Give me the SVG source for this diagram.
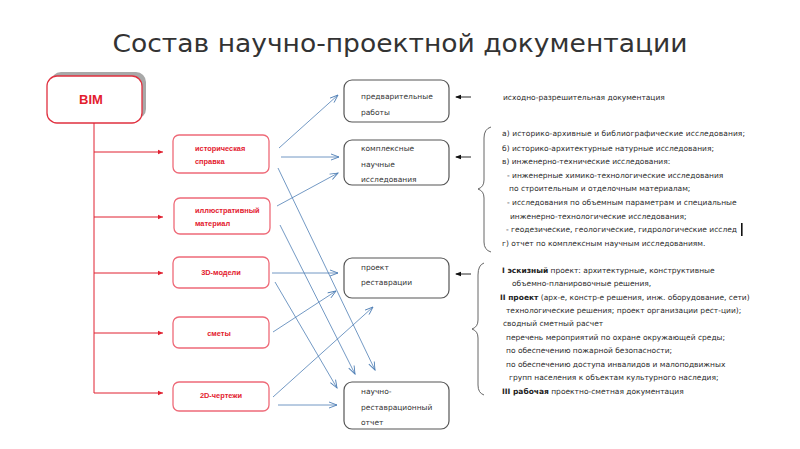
<svg xmlns="http://www.w3.org/2000/svg" width="800" height="449" viewBox="0 0 800 449">
<defs>
<marker id="blueArrow" markerWidth="10" markerHeight="8" refX="9" refY="4" orient="auto" markerUnits="userSpaceOnUse">
<path d="M1,1 L9,4 L1,7" fill="none" stroke="#4f7fb5" stroke-width="0.9"/>
</marker>
<marker id="redArrow" markerWidth="6" markerHeight="6" refX="5" refY="3" orient="auto" markerUnits="userSpaceOnUse">
<path d="M0,0.8 L5,3 L0,5.2 Z" fill="#e02030"/>
</marker>
<marker id="blackArrow" markerWidth="6" markerHeight="6" refX="1" refY="3" orient="auto" markerUnits="userSpaceOnUse">
<path d="M6,0.8 L0,3 L6,5.2 Z" fill="#111"/>
</marker>
</defs>
<style>
.title{font-family:"DejaVu Sans","Open Sans",sans-serif;font-size:24px;fill:#333}
.rbox{fill:#fff;stroke:#ee6a78;stroke-width:1.3}
.rtxt{font-family:"Liberation Sans","Arial",sans-serif;font-size:7.4px;font-weight:bold;fill:#e3202e}
.bbox{fill:#fff;stroke:#555;stroke-width:1.2}
.btxt{font-family:"DejaVu Sans",sans-serif;font-size:7.5px;fill:#333}
.ttxt{font-family:"DejaVu Sans",sans-serif;font-size:7.5px;fill:#2a2a2a}
.b{font-weight:bold;fill:#222}
.conn{stroke:#4f7fb5;stroke-width:0.8;fill:none;marker-end:url(#blueArrow)}
.tree{stroke:#e02030;stroke-width:1;fill:none}
.branch{stroke:#e02030;stroke-width:1;fill:none;marker-end:url(#redArrow)}
.larr{stroke:#111;stroke-width:0.9;fill:none;marker-start:url(#blackArrow)}
.brace{stroke:#555;stroke-width:0.9;fill:none}
</style>
<rect width="800" height="449" fill="#fff"/>
<text class="title" x="400" y="52" text-anchor="middle" textLength="575" lengthAdjust="spacingAndGlyphs">Состав научно-проектной документации</text>

<g id="bim">
<rect x="51" y="72" width="95" height="47" rx="10" fill="#a8a8a8"/>
<rect x="47" y="76" width="95" height="47" rx="10" fill="#fff" stroke="#e0303f" stroke-width="1.3"/>
<text x="91" y="104" text-anchor="middle" font-family="Liberation Sans, Arial, sans-serif" font-size="13" font-weight="bold" fill="#e3202e">BIM</text>
</g>

<g id="tree">
<line class="tree" x1="94" y1="123" x2="94" y2="393"/>
<line class="branch" x1="94" y1="152" x2="163" y2="152"/>
<line class="branch" x1="94" y1="217" x2="163" y2="217"/>
<line class="branch" x1="94" y1="273" x2="163" y2="273"/>
<line class="branch" x1="94" y1="333" x2="163" y2="333"/>
<line class="branch" x1="94" y1="393" x2="163" y2="393"/>
</g>

<g id="hist">
<rect class="rbox" x="173" y="135" width="96" height="38" rx="6"/>
<text class="rtxt" x="195" y="150.5">историческая</text>
<text class="rtxt" x="195" y="163.5">справка</text>
</g>
<g id="illus">
<rect class="rbox" x="174" y="198" width="96" height="36" rx="6"/>
<text class="rtxt" x="195" y="212.5">иллюстративный</text>
<text class="rtxt" x="195" y="225.5">материал</text>
</g>
<g id="models3d">
<rect class="rbox" x="173" y="257" width="96" height="31" rx="6"/>
<text class="rtxt" x="221" y="274.5" text-anchor="middle">3D-модели</text>
</g>
<g id="smety">
<rect class="rbox" x="173" y="317" width="96" height="31" rx="6"/>
<text class="rtxt" x="219" y="335.5" text-anchor="middle">сметы</text>
</g>
<g id="drawings2d">
<rect class="rbox" x="173" y="382" width="96" height="29" rx="6"/>
<text class="rtxt" x="221" y="397.5" text-anchor="middle">2D-чертежи</text>
</g>

<g id="prelim">
<rect class="bbox" x="344" y="80" width="105" height="42" rx="8"/>
<text class="btxt" x="361" y="99">предварительные</text>
<text class="btxt" x="361" y="115">работы</text>
</g>
<g id="complex">
<rect class="bbox" x="344" y="140" width="105" height="45" rx="8"/>
<text class="btxt" x="361" y="151">комплексные</text>
<text class="btxt" x="361" y="167">научные</text>
<text class="btxt" x="361" y="182">исследования</text>
</g>
<g id="project">
<rect class="bbox" x="344" y="258" width="105" height="40" rx="8"/>
<text class="btxt" x="361" y="270">проект</text>
<text class="btxt" x="361" y="285">реставрации</text>
</g>
<g id="report">
<rect class="bbox" x="344" y="382" width="105" height="47" rx="8"/>
<text class="btxt" x="361" y="394">научно-</text>
<text class="btxt" x="361" y="410">реставрационный</text>
<text class="btxt" x="361" y="425">отчет</text>
</g>

<g id="connectors">
<line class="conn" x1="279" y1="148" x2="338" y2="95"/>
<line class="conn" x1="281" y1="157" x2="339" y2="157"/>
<line class="conn" x1="277" y1="206" x2="338" y2="173"/>
<line class="conn" x1="278" y1="168" x2="375" y2="370"/>
<line class="conn" x1="280" y1="225" x2="355" y2="374"/>
<line class="conn" x1="272" y1="273" x2="338" y2="273"/>
<line class="conn" x1="275" y1="282" x2="337" y2="388"/>
<line class="conn" x1="273" y1="332" x2="336" y2="291"/>
<line class="conn" x1="273" y1="397" x2="373" y2="307"/>
<line class="conn" x1="278" y1="405" x2="337" y2="405"/>
<line class="larr" x1="456" y1="97" x2="471" y2="97"/>
<line class="larr" x1="456" y1="157" x2="471" y2="157"/>
<line class="larr" x1="456" y1="274" x2="471" y2="274"/>
</g>

<g id="text-prelim">
<text class="ttxt" x="503" y="100">исходно-разрешительная документация</text>
</g>

<g id="text-complex">
<path class="brace" d="M491,127 Q484,129 484,138 L484,180 Q484,187 478,189 Q484,191 484,198 L484,242 Q484,250 491,252"/>
<text class="ttxt" x="502" y="136" textLength="243" lengthAdjust="spacing">а) историко-архивные и библиографические исследования;</text>
<text class="ttxt" x="502" y="151">б) историко-архитектурные натурные исследования;</text>
<text class="ttxt" x="502" y="164">в) инженерно-технические исследования:</text>
<text class="ttxt" x="507" y="178">-  инженерные химико-технологические исследования</text>
<text class="ttxt" x="509" y="191">по строительным и отделочным материалам;</text>
<text class="ttxt" x="507" y="205">- исследования по объемным параметрам и специальные</text>
<text class="ttxt" x="510" y="219">инженерно-технологические исследования;</text>
<text class="ttxt" x="506" y="232">- геодезические, геологические, гидрологические исслед</text>
<text class="ttxt" x="502" y="246">г) отчет по комплексным научным исследованиям.</text>
<rect x="741" y="223" width="1.6" height="13" fill="#111"/>
</g>

<g id="text-project">
<path class="brace" d="M484,263 Q478,265 478,275 L478,320 Q478,327 472,329 Q478,331 478,338 L478,385 Q478,393 484,395"/>
<text class="ttxt" x="502" y="273"><tspan class="b">I эскизный</tspan> проект:  архитектурные, конструктивные</text>
<text class="ttxt" x="512" y="286">объемно-планировочные решения,</text>
<text class="ttxt" x="500" y="300"><tspan class="b">II проект</tspan> (арх-е, констр-е решения,  инж. оборудование,  сети)</text>
<text class="ttxt" x="506" y="313">технологические решения; проект организации рест-ции);</text>
<text class="ttxt" x="503" y="326">сводный сметный расчет</text>
<text class="ttxt" x="506" y="340">перечень мероприятий по охране окружающей  среды;</text>
<text class="ttxt" x="506" y="353">по обеспечению пожарной безопасности;</text>
<text class="ttxt" x="506" y="367">по обеспечению доступа инвалидов  и малоподвижных</text>
<text class="ttxt" x="509" y="380">групп населения к объектам культурного наследия;</text>
<text class="ttxt" x="502" y="394"><tspan class="b">III рабочая</tspan> проектно-сметная документация</text>
</g>
</svg>
